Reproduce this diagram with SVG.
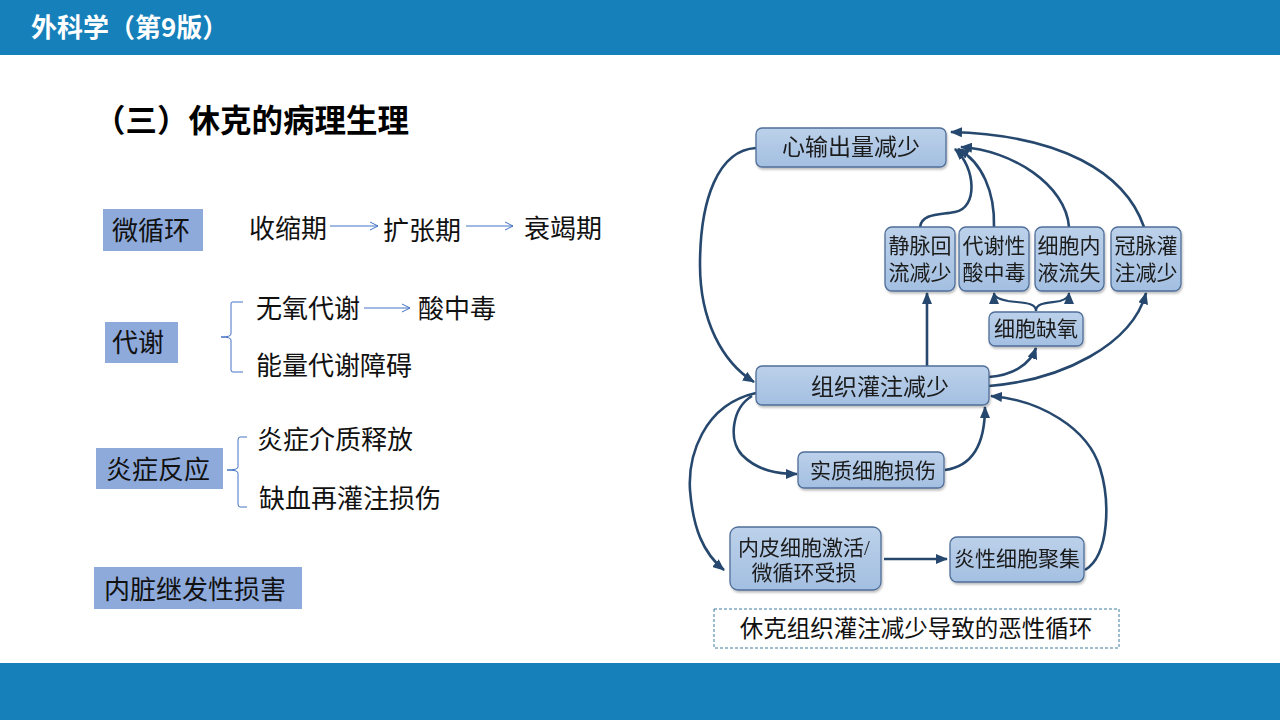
<svg xmlns="http://www.w3.org/2000/svg" width="1280" height="720" viewBox="0 0 1280 720">
<style>
.hdr{font-family:"Noto Sans CJK SC","Noto Sans",sans-serif;font-weight:bold;fill:#ffffff;font-size:26px}
.ttl{font-family:"Noto Sans CJK SC","Noto Sans",sans-serif;font-weight:bold;fill:#000;font-size:31.5px}
.lt{font-family:"Noto Sans CJK SC","Noto Sans",sans-serif;fill:#111;font-size:26px}
.lab{fill:#8eaadb}
.thin{fill:none;stroke:#4472c4;stroke-width:1}
.node rect{fill:url(#g);stroke:#4f6e98;stroke-width:1.3}
.nt{font-family:"Liberation Serif","Noto Sans CJK SC",serif;fill:#1a1a1a;font-size:21px;text-anchor:middle}
.big{font-size:23px}
.cn path{fill:none;stroke:#26486e;stroke-width:2.6}
.cap{font-family:"Noto Sans CJK SC","Noto Sans",sans-serif;fill:#111;font-size:23.5px;text-anchor:middle}
</style>
<defs>
<linearGradient id="g" x1="0" y1="0" x2="0" y2="1">
<stop offset="0" stop-color="#bcd1ea"/>
<stop offset="1" stop-color="#a3bfe1"/>
</linearGradient>
<filter id="sh" x="-10%" y="-10%" width="120%" height="130%">
<feDropShadow dx="1" dy="2" stdDeviation="1.2" flood-color="#000" flood-opacity="0.25"/>
</filter>
<marker id="ah" viewBox="0 0 12 10" refX="11" refY="5" markerWidth="12" markerHeight="10" markerUnits="userSpaceOnUse" orient="auto">
<path d="M0,0 L12,5 L0,10 Z" fill="#26486e"/>
</marker>
<marker id="op" viewBox="0 0 10 10" refX="9" refY="5" markerWidth="10" markerHeight="10" markerUnits="userSpaceOnUse" orient="auto">
<path d="M1,1 L9,5 L1,9" fill="none" stroke="#4472c4" stroke-width="1"/>
</marker>
</defs>
<rect x="0" y="0" width="1280" height="720" fill="#ffffff"/>
<rect x="0" y="0" width="1280" height="55" fill="#1680bb"/>
<rect x="0" y="663" width="1280" height="57" fill="#1680bb"/>
<text class="hdr" x="31" y="37">外科学（第9版）</text>
<text class="ttl" x="94" y="132">（三）休克的病理生理</text>

<g id="left">
<rect class="lab" x="103" y="209" width="100" height="42"/>
<text class="lt" x="112" y="240">微循环</text>
<text class="lt" x="249" y="238">收缩期</text>
<path class="thin" d="M330,226 L378,226" marker-end="url(#op)"/>
<text class="lt" x="383" y="240">扩张期</text>
<path class="thin" d="M466,226 L513,226" marker-end="url(#op)"/>
<text class="lt" x="524" y="238">衰竭期</text>

<rect class="lab" x="105" y="322" width="73" height="41"/>
<text class="lt" x="112" y="352">代谢</text>
<path class="thin" d="M243,302 L232,302 Q231,302 231,304 L231,334 Q231,337 221,337 Q231,337 231,340 L231,370 Q231,372 233,372 L243,372"/>
<text class="lt" x="256" y="318">无氧代谢</text>
<path class="thin" d="M364,308 L410,308" marker-end="url(#op)"/>
<text class="lt" x="418" y="318">酸中毒</text>
<text class="lt" x="256" y="375">能量代谢障碍</text>

<rect class="lab" x="96" y="448" width="127" height="41"/>
<text class="lt" x="106" y="479">炎症反应</text>
<path class="thin" d="M247,437 L240,437 Q238,437 238,440 L238,467 Q238,470 227,470 Q238,470 238,473 L238,504 Q238,507 240,507 L247,507"/>
<text class="lt" x="257" y="449">炎症介质释放</text>
<text class="lt" x="259" y="508">缺血再灌注损伤</text>

<rect class="lab" x="94" y="567" width="208" height="42"/>
<text class="lt" x="104" y="599">内脏继发性损害</text>
</g>

<g class="cn" id="connectors">
<path d="M756,148 C718,150 700,200 700,265 C700,320 722,362 754,382" marker-end="url(#ah)"/>
<path d="M920,227 C922,213 940,215 955,212 C978,208 976,168 955,149" marker-end="url(#ah)"/>
<path d="M994,227 C995,192 982,162 958,149" marker-end="url(#ah)"/>
<path d="M1069,227 C1066,185 1012,150 961,147" marker-end="url(#ah)"/>
<path d="M1144,227 C1125,172 1060,135 951,132" marker-end="url(#ah)"/>
<path d="M927,366 L927,293" marker-end="url(#ah)"/>
<path d="M989,377 C1012,375 1030,365 1036,348" marker-end="url(#ah)"/>
<path d="M1036,311 C1036,302 1022,303 1008,301 C997,299 994,296 994,293" marker-end="url(#ah)" style="stroke-width:2.2"/>
<path d="M1036,311 C1036,302 1050,303 1060,301 C1067,299 1069,296 1069,293" marker-end="url(#ah)" style="stroke-width:2.2"/>
<path d="M989,386 C1062,380 1132,345 1146,293" marker-end="url(#ah)"/>
<path d="M752,396 C732,408 728,440 742,455 C758,471 778,474 797,474" marker-end="url(#ah)"/>
<path d="M945,470 C975,466 985,440 985,407" marker-end="url(#ah)"/>
<path d="M756,393 C702,405 688,458 690,490 C693,528 703,553 724,570" marker-end="url(#ah)"/>
<path d="M884,559 L947,559" marker-end="url(#ah)"/>
<path d="M1085,570 C1110,555 1110,500 1100,468 C1088,428 1040,400 991,396" marker-end="url(#ah)"/>
</g>

<g id="n1" class="node" filter="url(#sh)">
<rect x="756" y="128" width="190" height="39" rx="6"/>
<text class="nt big" x="851" y="155">心输出量减少</text>
</g>
<g id="n2" class="node" filter="url(#sh)">
<rect x="885" y="227" width="70" height="64" rx="7"/>
<text class="nt" x="920" y="253">静脉回</text>
<text class="nt" x="920" y="280">流减少</text>
</g>
<g id="n3" class="node" filter="url(#sh)">
<rect x="959" y="227" width="70" height="64" rx="7"/>
<text class="nt" x="994" y="253">代谢性</text>
<text class="nt" x="994" y="280">酸中毒</text>
</g>
<g id="n4" class="node" filter="url(#sh)">
<rect x="1035" y="227" width="69" height="64" rx="7"/>
<text class="nt" x="1069" y="253">细胞内</text>
<text class="nt" x="1069" y="280">液流失</text>
</g>
<g id="n5" class="node" filter="url(#sh)">
<rect x="1111" y="227" width="70" height="64" rx="7"/>
<text class="nt" x="1146" y="253">冠脉灌</text>
<text class="nt" x="1146" y="280">注减少</text>
</g>
<g id="n6" class="node" filter="url(#sh)">
<rect x="989" y="312" width="94" height="34" rx="6"/>
<text class="nt" x="1036" y="336">细胞缺氧</text>
</g>
<g id="n7" class="node" filter="url(#sh)">
<rect x="756" y="366" width="233" height="39" rx="6"/>
<text class="nt big" x="880" y="395">组织灌注减少</text>
</g>
<g id="n8" class="node" filter="url(#sh)">
<rect x="798" y="452" width="146" height="36" rx="6"/>
<text class="nt" x="873" y="478">实质细胞损伤</text>
</g>
<g id="n9" class="node" filter="url(#sh)">
<rect x="730" y="527" width="151" height="63" rx="8"/>
<text class="nt" x="804" y="555">内皮细胞激活/</text>
<text class="nt" x="804" y="580">微循环受损</text>
</g>
<g id="n10" class="node" filter="url(#sh)">
<rect x="950" y="537" width="134" height="45" rx="7"/>
<text class="nt" x="1017" y="566">炎性细胞聚集</text>
</g>

<g id="caption">
<rect x="714" y="609" width="405" height="39" fill="none" stroke="#3f7d9e" stroke-width="1" stroke-dasharray="3,2"/>
<text class="cap" x="916" y="637">休克组织灌注减少导致的恶性循环</text>
</g>
</svg>
